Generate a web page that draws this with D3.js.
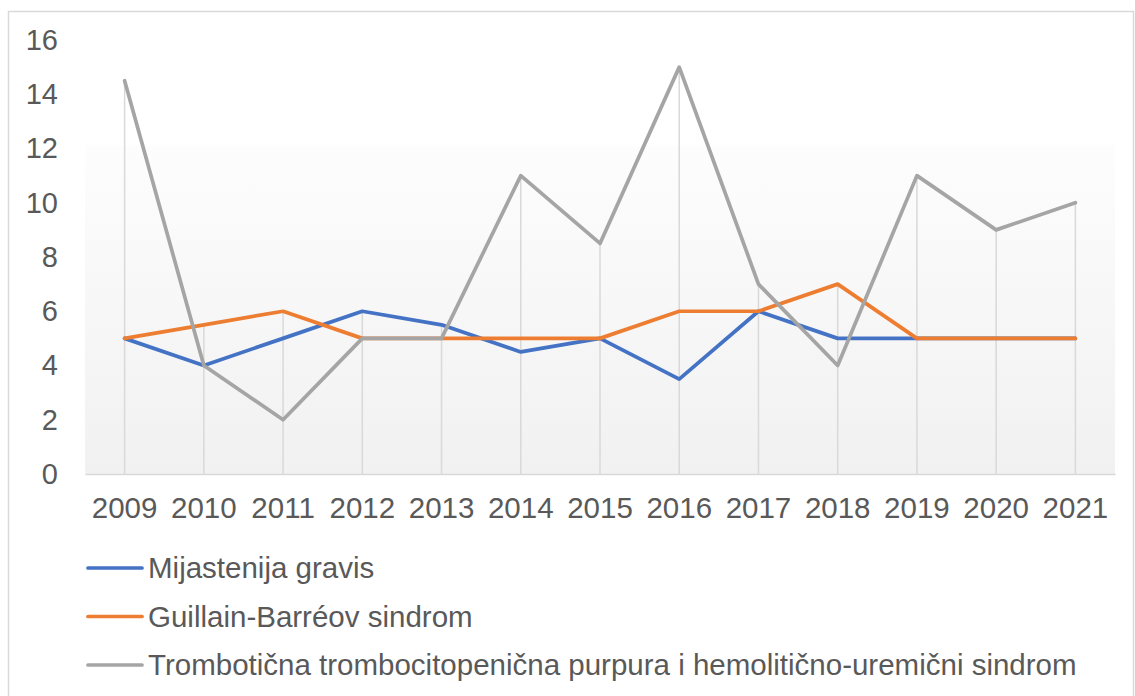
<!DOCTYPE html>
<html>
<head>
<meta charset="utf-8">
<script src="https://cdn.jsdelivr.net/npm/d3@7"></script>
<style>
  body { margin: 0; background: #fff; }
  svg text { font-family: "Liberation Sans", Arial, sans-serif; fill: #595959; }
</style>
</head>
<body>
<div class="chart"></div>
<script>
const years = ['2009', '2010', '2011', '2012', '2013', '2014', '2015', '2016', '2017', '2018', '2019', '2020', '2021'];
const mijastenija = [5, 4, 5, 6, 5.5, 4.5, 5, 3.5, 6, 5, 5, 5, 5];
const guillain = [5, 5.5, 6, 5, 5, 5, 5, 6, 6, 7, 5, 5, 5];
const trombo = [14.5, 4, 2, 5, 5, 11, 8.5, 15, 7, 4, 11, 9, 10];
const yTicks = [0, 2, 4, 6, 8, 10, 12, 14, 16];

const series = [
  { name: 'Mijastenija gravis', values: mijastenija, color: '#4472C4' },
  { name: 'Guillain-Barréov sindrom', values: guillain, color: '#ED7D31' },
  { name: 'Trombotična trombocitopenična purpura i hemolitično-uremični sindrom', values: trombo, color: '#A5A5A5' }
];

const W = 1135, H = 696;
const margins = { top: 40, right: 20, bottom: 222, left: 85 },
  width = W - margins.left - margins.right,
  height = H - margins.top - margins.bottom;

const root = d3.select('.chart').append('svg').attr('width', W).attr('height', H);

// outer frame
root.append('rect')
  .attr('x', 8.5).attr('y', 11.5).attr('width', W - 10).attr('height', H)
  .attr('fill', '#fff').attr('stroke', '#d9d9d9').attr('stroke-width', 1.5);

const defs = root.append('defs');
const grad = defs.append('linearGradient').attr('id', 'bg').attr('x1', 0).attr('y1', 0).attr('x2', 0).attr('y2', 1);
grad.append('stop').attr('offset', '0%').attr('stop-color', '#ffffff');
grad.append('stop').attr('offset', '24%').attr('stop-color', '#ffffff');
grad.append('stop').attr('offset', '24.5%').attr('stop-color', '#fdfdfd');
grad.append('stop').attr('offset', '100%').attr('stop-color', '#f1f1f1');

const svg = root.append('g').attr('transform', 'translate(' + margins.left + ',' + margins.top + ')');

const x = d3.scaleBand().domain(years).range([0, width]);
const y = d3.scaleLinear().domain([0, 16]).range([height, 0]);
const cx = d => x(d) + x.bandwidth() / 2;

svg.append('rect').attr('width', width).attr('height', height).attr('fill', 'url(#bg)');

// drop lines from the highest point
svg.selectAll('.drop')
  .data(years)
  .enter()
  .append('line')
  .attr('class', 'drop')
  .attr('x1', d => cx(d)).attr('x2', d => cx(d))
  .attr('y1', (d, i) => y(d3.max(series, s => s.values[i])))
  .attr('y2', height)
  .attr('stroke', '#d9d9d9').attr('stroke-width', 1.5);

// axes
const xAxis = d3.axisBottom(x).tickSize(0).tickPadding(23);
const yAxis = d3.axisLeft(y).tickValues(yTicks).tickSize(0).tickPadding(27);

const gx = svg.append('g').attr('transform', 'translate(0,' + height + ')').call(xAxis);
gx.select('.domain').attr('stroke', '#d9d9d9').attr('stroke-width', 1.5);
gx.selectAll('text').style('font-size', '29.5px').attr('dy', '0.71em');

const gy = svg.append('g').call(yAxis);
gy.select('.domain').remove();
gy.selectAll('text').style('font-size', '29px');

// lines
const line = d3.line().x((d, i) => cx(years[i])).y(d => y(d));
svg.selectAll('.series')
  .data(series)
  .enter()
  .append('path')
  .attr('class', 'series')
  .attr('d', d => line(d.values))
  .attr('fill', 'none')
  .attr('stroke', d => d.color)
  .attr('stroke-width', 3.7)
  .attr('stroke-linejoin', 'round')
  .attr('stroke-linecap', 'round');

// legend
const legend = root.append('g').attr('transform', 'translate(88,568)');
const item = legend.selectAll('.item')
  .data(series)
  .enter()
  .append('g')
  .attr('class', 'item')
  .attr('transform', (d, i) => 'translate(0,' + i * 48.5 + ')');
item.append('line')
  .attr('x1', 0).attr('x2', 54)
  .attr('stroke', d => d.color).attr('stroke-width', 3.7).attr('stroke-linecap', 'round');
item.append('text')
  .attr('x', 60).attr('dy', '0.35em')
  .style('font-size', '29.5px')
  .text(d => d.name);
</script>
</body>
</html>
